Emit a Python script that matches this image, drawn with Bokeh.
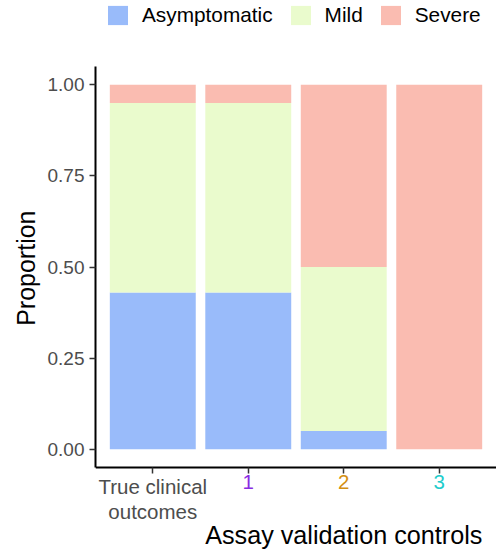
from bokeh.plotting import figure
from bokeh.models import (Range1d, FixedTicker, PrintfTickFormatter, Legend,
                          LegendItem, ColumnDataSource, Title)
from bokeh.core.properties import value
from bokeh.embed import file_html
from bokeh.resources import INLINE

# ---- data ----
categories = ["True clinical\noutcomes", "1", "2", "3"]
positions = [1, 2, 3, 4]
asymptomatic = [0.43, 0.43, 0.05, 0.0]
mild = [0.52, 0.52, 0.45, 0.0]
severe = [0.05, 0.05, 0.50, 1.0]
severity_levels = ["Asymptomatic", "Mild", "Severe"]
severity_colors = ["#99BBFA", "#EAFBCD", "#FABCB1"]
category_label_colors = ["#4D4D4D", "#8A2BE2", "#D48F12", "#22CCCC"]
y_ticks = [0, 0.25, 0.5, 0.75, 1.0]
x_title = "Assay validation controls"
y_title = "Proportion"

FONT = "Liberation Sans"

# data extent (5% expansion) and extra room in the frame for outer texts
Y_LO, Y_HI = -0.05, 1.05
PX = (Y_HI - Y_LO) / 401.0          # data units per pixel
FRAME_TOP_PAD = 66                   # px above y=1.05 (legend area)
FRAME_BOTTOM_PAD = 86                # px below y=-0.05 (x labels + title)
FRAME_H = 401 + FRAME_TOP_PAD + FRAME_BOTTOM_PAD

source = ColumnDataSource(dict(x=positions, Asymptomatic=asymptomatic,
                               Mild=mild, Severe=severe))

p = figure(width=496, height=559, output_backend="svg", toolbar_location=None,
           x_range=Range1d(0.4, 4.6),
           y_range=Range1d(Y_LO - FRAME_BOTTOM_PAD * PX, Y_HI + FRAME_TOP_PAD * PX),
           min_border_left=95, min_border_right=0, min_border_top=0,
           min_border_bottom=6)
p.outline_line_color = None
p.xgrid.visible = False
p.ygrid.visible = False
p.background_fill_color = "white"
p.border_fill_color = "white"

renderers = p.vbar_stack(severity_levels, x="x", width=0.9, source=source,
                         fill_color=severity_colors, line_color=None)

# y axis
p.yaxis.bounds = (Y_LO, Y_HI)
p.yaxis.ticker = FixedTicker(ticks=y_ticks)
p.yaxis.formatter = PrintfTickFormatter(format="%.2f")
p.yaxis.major_label_text_font = FONT
p.yaxis.major_label_text_font_size = "19px"
p.yaxis.major_label_text_color = "#4D4D4D"
p.yaxis.major_label_standoff = 5
p.yaxis.major_tick_out = 6
p.yaxis.major_tick_in = 0
p.yaxis.minor_tick_out = 0
p.yaxis.minor_tick_in = 0
p.yaxis.major_tick_line_color = "#333333"
p.yaxis.major_tick_line_width = 1.5
p.yaxis.axis_line_color = "black"
p.yaxis.axis_line_width = 2

# y axis title, centred on the data area (not on the taller frame)
p.add_layout(Title(text=y_title, align="right", offset=210,
                   vertical_align="top", standoff=6,
                   text_font=FONT, text_font_size="25px",
                   text_font_style="normal", text_color="black"), "left")

# x axis (line + ticks at the bottom of the data area)
p.xaxis.fixed_location = Y_LO
p.xaxis.ticker = FixedTicker(ticks=positions)
p.xaxis.major_label_overrides = {pos: "" for pos in positions}
p.xaxis.major_label_text_font_size = "0px"
p.xaxis.major_label_standoff = 0
p.xaxis.major_tick_out = 6
p.xaxis.major_tick_in = 0
p.xaxis.minor_tick_out = 0
p.xaxis.minor_tick_in = 0
p.xaxis.major_tick_line_color = "#333333"
p.xaxis.major_tick_line_width = 1.5
p.xaxis.axis_line_color = "black"
p.xaxis.axis_line_width = 2

# category tick labels, each in its own colour
p.text(x=positions, y=[Y_LO - 7 * PX] * len(positions), text=categories,
       text_color=category_label_colors, text_align="center",
       text_baseline="top", text_font=value(FONT), text_font_size="20.5px",
       text_line_height=1.12)

# x axis title
p.text(x=[3], y=[Y_LO - 53 * PX], text=[x_title], text_color="black",
       text_align="center", text_baseline="top", text_font=value(FONT),
       text_font_size="25.2px")

legend = Legend(items=[LegendItem(label=s, renderers=[r])
                       for s, r in zip(severity_levels, renderers)],
                orientation="horizontal",
                location=(10, FRAME_H - 2 - 25),
                glyph_width=25, glyph_height=24, label_standoff=12,
                spacing=15, padding=0, margin=0,
                label_text_font=FONT, label_text_font_size="20.8px",
                label_text_color="black",
                border_line_color=None, background_fill_alpha=0)
p.add_layout(legend, "center")

open("out.html", "w").write(file_html(p, INLINE))
